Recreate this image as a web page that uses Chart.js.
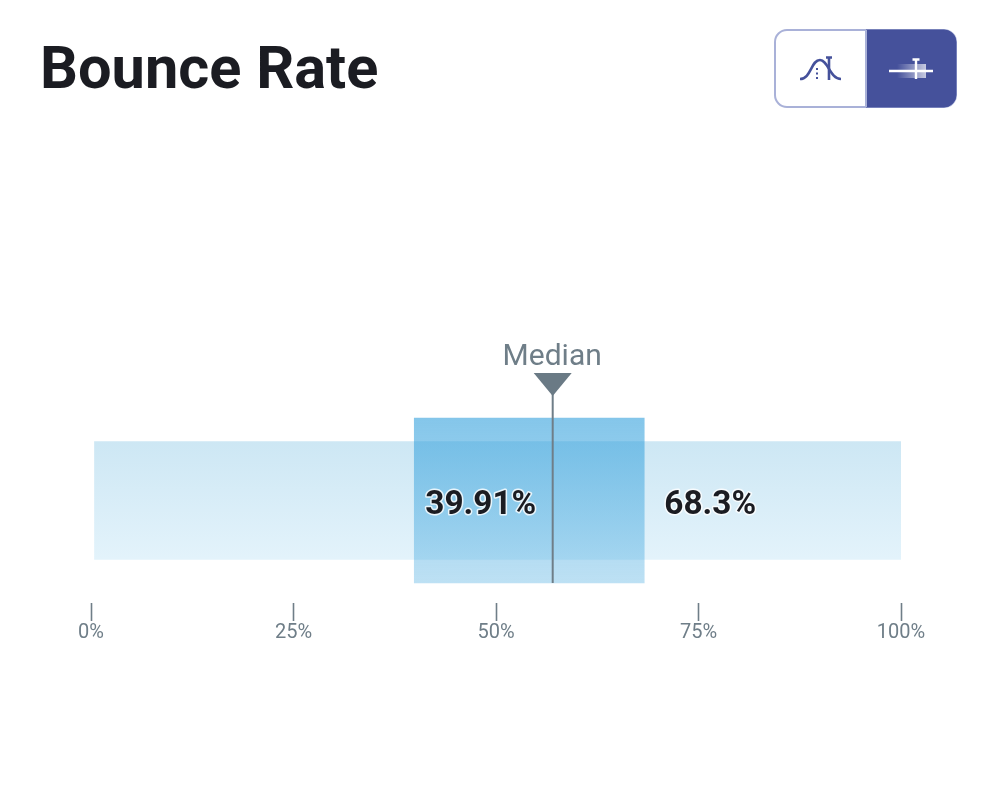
<!DOCTYPE html>
<html>
<head>
<meta charset="utf-8">
<title>Bounce Rate</title>
<script src="https://cdn.jsdelivr.net/npm/chart.js@4"></script>
<style>
    html, body { margin: 0; padding: 0; background: #fff; }
    body { position: relative; width: 1000px; height: 791px; overflow: hidden; font-family: Roboto, sans-serif; }
    h1 { position: absolute; left: 40px; top: 33px; margin: 0; font-size: 59.5px; line-height: 70px; font-weight: 700; color: #1b1c22; }
    .toggle { position: absolute; left: 774px; top: 29px; }
    #chartWrap { position: absolute; left: 0; top: 0; width: 1000px; height: 791px; }
</style>
</head>
<body>
<div id="chartWrap"><canvas id="rangeChart" width="1000" height="791"></canvas></div>
<h1>Bounce Rate</h1>

<!-- view switcher, bell curve / range -->
<svg class="toggle" width="184" height="80" viewBox="774 29 184 80">
    <defs>
        <linearGradient id="fade" x1="0" x2="1" y1="0" y2="0">
            <stop offset="0" stop-color="#fff" stop-opacity="0"/>
            <stop offset="1" stop-color="#fff" stop-opacity="0.7"/>
        </linearGradient>
    </defs>
    <rect x="775" y="30" width="181" height="77" rx="12" fill="#fff" stroke="#a9b1d8" stroke-width="2"/>
    <path d="M866 30H944a12 12 0 0 1 12 12V95a12 12 0 0 1-12 12H866Z" fill="#45519b" stroke="#45519b" stroke-width="1"/>
    <line x1="866" y1="30" x2="866" y2="107" stroke="#a9b1d8" stroke-width="2"/>
    <path d="M800 79C811 79 811 60 820 60C828 60 830 79 841 79" fill="none" stroke="#45519b" stroke-width="2.6"/>
    <path d="M829 58V80M826 57.5H832" fill="none" stroke="#45519b" stroke-width="2.6"/>
    <path d="M817 68V81" fill="none" stroke="#45519b" stroke-width="2" stroke-dasharray="2 2.5"/>
    <rect x="897" y="64" width="29" height="14" fill="url(#fade)"/>
    <path d="M889 71H933M916 60V79M912.5 59.5H919.5" fill="none" stroke="#fff" stroke-width="2.4"/>
</svg>

<script>
const categories = ['Bounce Rate'];
const fullRange = [[0.43, 100]];
const middleRange = [[39.91, 68.3]];
const medianValue = 57;
const tickValues = [0, 25, 50, 75, 100];
const lowLabel = '39.91%';
const highLabel = '68.3%';

const greyText = '#6f7e88';

function outerFill(context) {
    const area = context.chart.chartArea;
    if (!area) return '#d8ecf6';
    const g = context.chart.ctx.createLinearGradient(0, 441, 0, 559);
    g.addColorStop(0, '#cde7f4');
    g.addColorStop(1, '#e3f3fb');
    return g;
}

function innerFill(context) {
    const area = context.chart.chartArea;
    if (!area) return 'rgba(50,160,220,0.5)';
    const g = context.chart.ctx.createLinearGradient(0, 418, 0, 583);
    g.addColorStop(0, 'rgba(50,160,220,0.6)');
    g.addColorStop(1, 'rgba(50,160,220,0.32)');
    return g;
}

// median marker and the two value labels sit on top of the bars
const overlayPlugin = {
    id: 'overlay',
    afterDatasetsDraw(chart) {
        const { ctx, scales } = chart;
        const x = scales.x.getPixelForValue(medianValue);
        ctx.save();

        ctx.strokeStyle = greyText;
        ctx.lineWidth = 2;
        ctx.beginPath();
        ctx.moveTo(x, 392);
        ctx.lineTo(x, 583);
        ctx.stroke();

        ctx.fillStyle = '#6a7a85';
        ctx.beginPath();
        ctx.moveTo(x - 19, 373);
        ctx.lineTo(x + 19, 373);
        ctx.lineTo(x, 396);
        ctx.closePath();
        ctx.fill();

        ctx.font = '400 30px Roboto';
        ctx.fillStyle = greyText;
        ctx.textAlign = 'center';
        ctx.textBaseline = 'alphabetic';
        ctx.fillText('Median', x - 0.5, 365);

        ctx.font = '700 33.4px Roboto';
        ctx.textAlign = 'left';
        ctx.lineJoin = 'round';
        ctx.lineWidth = 3;
        ctx.strokeStyle = 'rgba(255,255,255,0.8)';
        ctx.fillStyle = '#1b1c22';
        const lowX = scales.x.getPixelForValue(middleRange[0][0]) + 11;
        const highX = scales.x.getPixelForValue(middleRange[0][1]) + 20;
        ctx.strokeText(lowLabel, lowX, 514);
        ctx.fillText(lowLabel, lowX, 514);
        ctx.strokeText(highLabel, highX, 514);
        ctx.fillText(highLabel, highX, 514);
        ctx.restore();
    }
};

new Chart(document.getElementById('rangeChart'), {
    type: 'bar',
    data: {
        labels: categories,
        datasets: [
            { data: middleRange, backgroundColor: innerFill, barThickness: 165, order: 1, grouped: false },
            { data: fullRange, backgroundColor: outerFill, barThickness: 118, order: 2, grouped: false }
        ]
    },
    options: {
        indexAxis: 'y',
        responsive: false,
        animation: false,
        devicePixelRatio: 1,
        layout: { padding: { left: 91, right: 99, top: 398, bottom: 146 } },
        plugins: { legend: { display: false }, tooltip: { enabled: false } },
        scales: {
            y: { display: false },
            x: {
                min: 0,
                max: 100,
                afterBuildTicks(axis) {
                    axis.ticks = tickValues.map(v => ({ value: v }));
                },
                border: { display: false },
                grid: { drawOnChartArea: false, drawTicks: true, tickLength: 18, tickWidth: 1.6, tickColor: greyText },
                ticks: {
                    maxRotation: 0,
                    autoSkip: false,
                    padding: 0,
                    color: greyText,
                    font: { family: 'Roboto', size: 20 },
                    callback: v => v + '%'
                }
            }
        }
    },
    plugins: [overlayPlugin]
});
</script>
</body>
</html>
